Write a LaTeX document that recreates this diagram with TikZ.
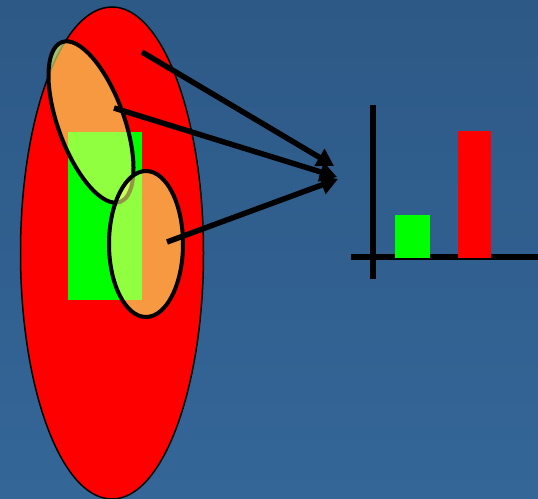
\documentclass[tikz,border=0pt]{standalone}
\usetikzlibrary{shapes.geometric, arrows.meta, positioning, calc}
\definecolor{slatetop}{RGB}{45, 89, 134}
\definecolor{slatebottom}{RGB}{52, 102, 152}
\definecolor{purered}{RGB}{255, 0, 0}
\definecolor{puregreen}{RGB}{0, 255, 0}
\definecolor{paleyellow}{RGB}{240, 255, 107}

\begin{document}
\begin{tikzpicture}[
            x=1pt, y=-1pt,
            blob/.style={ellipse, draw=black, inner sep=0pt},
            subset/.style={blob, line width=4pt, fill=paleyellow, fill opacity=0.6, draw opacity=1},
            pointer/.style={-{Triangle[length=17pt, width=19pt]}, line width=5.5pt, black},
            axis/.style={line width=6pt, black}
        ]
            % background
            \shade[top color=slatetop, bottom color=slatebottom] (0,0) rectangle (538,498);
            \useasboundingbox (0,0) rectangle (538,498);
            \clip (0,0) rectangle (538,498);

            % population and its subsets
            \node[blob, line width=1.5pt, fill=purered, minimum width=183pt, minimum height=492pt] (whole) at (112,253) {};
            \fill[puregreen] (68,132) rectangle (142,300);
            \node[subset, rotate=20, minimum width=66pt, minimum height=170pt] (sampleA) at (91,122) {};
            \node[subset, minimum width=74pt, minimum height=146pt] (sampleB) at (146,244) {};

            % arrows to the chart
            \coordinate (srcA) at (142,52);
            \coordinate (srcB) at (114,108);
            \coordinate (srcC) at (167,242);
            \coordinate (tipA) at (334,166);
            \coordinate (tipB) at (337,177);
            \coordinate (tipC) at (338,179);
            \draw[pointer] (srcA) -- (tipA);
            \draw[pointer] (srcB) -- (tipB);
            \draw[pointer] (srcC) -- (tipC);

            % chart
            \coordinate (origin) at (373,257);
            \draw[axis] (373,105) -- (373,279);
            \draw[axis] (351,257) -- (540,257);
            \fill[puregreen] (395,215) rectangle (430,258);
            \fill[purered] (458,131) rectangle (491,258);
        \end{tikzpicture}
\end{document}
